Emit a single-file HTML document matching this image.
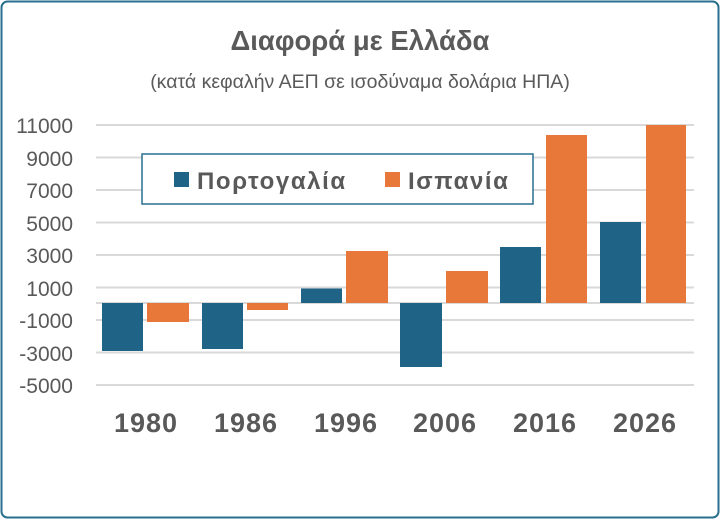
<!DOCTYPE html>
<html><head><meta charset="utf-8"><style>
html,body{margin:0;padding:0;background:#fff;width:720px;height:519px;overflow:hidden}
</style></head><body>
<svg width="720" height="519" xmlns="http://www.w3.org/2000/svg" font-family="Liberation Sans, DejaVu Sans, sans-serif">
<rect x="1.5" y="1.5" width="717" height="516" rx="6" fill="#fff" stroke="#2a6f8f" stroke-width="2"/>
<text x="360" y="50" text-anchor="middle" font-size="27.5" font-weight="bold" fill="#5a5a5a">Διαφορά με Ελλάδα</text>
<text x="360" y="88" text-anchor="middle" font-size="19.5" fill="#5a5a5a">(κατά κεφαλήν ΑΕΠ σε ισοδύναμα δολάρια ΗΠΑ)</text>
<g stroke="#d9d9d9" stroke-width="2">
<line x1="96" x2="694" y1="125" y2="125"/><line x1="96" x2="694" y1="157.5" y2="157.5"/>
<line x1="96" x2="694" y1="190" y2="190"/><line x1="96" x2="694" y1="222.5" y2="222.5"/>
<line x1="96" x2="694" y1="255" y2="255"/><line x1="96" x2="694" y1="287.5" y2="287.5"/>
<line x1="96" x2="694" y1="303" y2="303"/>
<line x1="96" x2="694" y1="320" y2="320"/><line x1="96" x2="694" y1="352.5" y2="352.5"/>
<line x1="96" x2="694" y1="385" y2="385"/>
</g>
<g font-size="21" fill="#595959" text-anchor="end">
<text x="73" y="133">11000</text><text x="73" y="166">9000</text><text x="73" y="198">7000</text>
<text x="73" y="231">5000</text><text x="73" y="263">3000</text><text x="73" y="296">1000</text>
<text x="73" y="328">-1000</text><text x="73" y="361">-3000</text><text x="73" y="393">-5000</text>
</g>
<g fill="#1f6487">
<rect x="102" y="303" width="41" height="48"/>
<rect x="202" y="303" width="41" height="46"/>
<rect x="301" y="288.5" width="41" height="14.5"/>
<rect x="400" y="303" width="42" height="64"/>
<rect x="500" y="247" width="41" height="56"/>
<rect x="600" y="222" width="41" height="81"/>
</g>
<g fill="#e8773a">
<rect x="147" y="303" width="42" height="19"/>
<rect x="247" y="303" width="41" height="7"/>
<rect x="346" y="251" width="42" height="52"/>
<rect x="446" y="271" width="42" height="32"/>
<rect x="546" y="135" width="41" height="168"/>
<rect x="646" y="125" width="40" height="178"/>
</g>
<g font-size="27" font-weight="bold" fill="#595959" text-anchor="middle" letter-spacing="1">
<text x="146" y="432">1980</text><text x="246" y="432">1986</text><text x="346" y="432">1996</text>
<text x="445" y="432">2006</text><text x="545" y="432">2016</text><text x="645" y="432">2026</text>
</g>
<rect x="142" y="154" width="391" height="50" fill="#fff" stroke="#2a6f8f" stroke-width="1.5"/>
<rect x="174" y="172" width="15" height="15" fill="#1f6487"/>
<text x="197" y="189" font-size="24" font-weight="bold" fill="#595959" letter-spacing="1.6">Πορτογαλία</text>
<rect x="385" y="172" width="15" height="15" fill="#e8773a"/>
<text x="408" y="189" font-size="24" font-weight="bold" fill="#595959" letter-spacing="1.6">Ισπανία</text>
</svg>
</body></html>
